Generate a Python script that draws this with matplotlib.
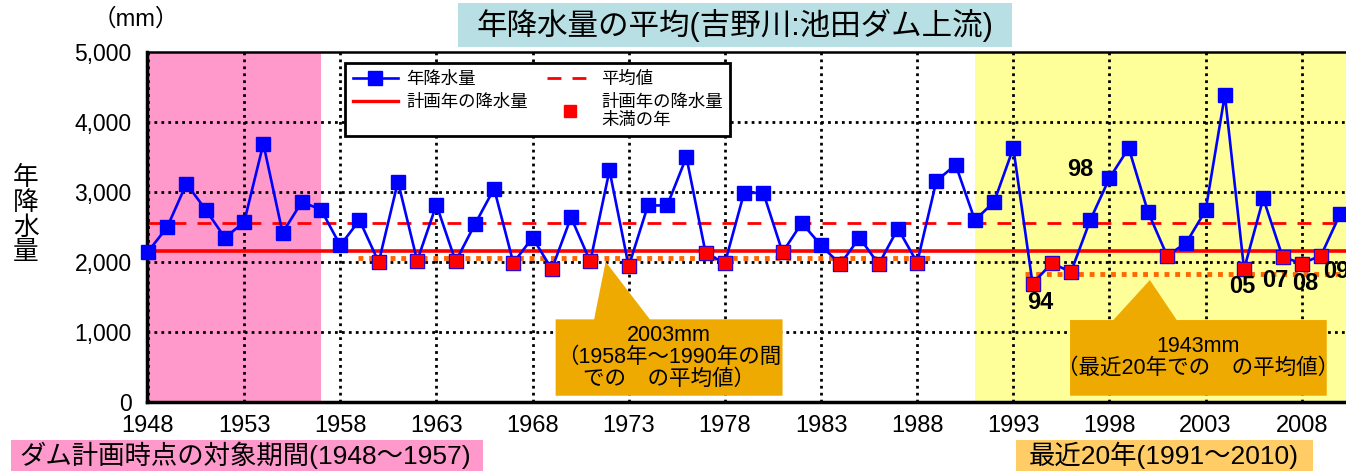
import numpy as np
import matplotlib
matplotlib.use("Agg")
import matplotlib.pyplot as plt
from matplotlib.lines import Line2D
from matplotlib.patches import Rectangle, Polygon

plt.rcParams['font.family'] = ['Liberation Sans', 'Noto Sans CJK JP']

# data (mm)
years = np.arange(1948, 2011)
rain = [2150, 2500, 3120, 2750, 2350, 2570, 3690, 2420, 2860, 2750,
        2240, 2600, 2000, 3150, 2020, 2820, 2010, 2540, 3050, 1990,
        2350, 1900, 2640, 2010, 3310, 1940, 2810, 2810, 3500, 2130,
        1985, 2990, 2990, 2140, 2560, 2240, 1970, 2350, 1970, 2480,
        1994, 3160, 3390, 2600, 2860, 3630, 1695, 1985, 1860, 2600,
        3200, 3630, 2720, 2090, 2280, 2740, 4390, 1900, 2910, 2078,
        1980, 2095, 2690]
plan_rain = 2160
mean_rain = 2560
avg_58_90 = 2060      # drawn level of the 2003mm line
avg_recent = 1830     # drawn level of the 1943mm line
label_years = {"94": (1994.4, 1430), "98": (1996.5, 3320), "05": (2004.9, 1650),
               "07": (2006.6, 1745), "08": (2008.2, 1690), "09": (2009.8, 1870)}

rain = np.array(rain)
red = (years >= 1958) & (rain < plan_rain)

W, H = 1346, 471
fig = plt.figure(figsize=(W / 100, H / 100), dpi=100)
ax = fig.add_axes([147 / W, (H - 402.3) / H, (W - 147) / W, (402.3 - 52) / H])
ax.set_xlim(1947.95, 2010.3)
ax.set_ylim(0, 5000)

# background periods
ax.axvspan(1947.95, 1957.0, color='#FF99CC', zorder=0, lw=0)
ax.axvspan(1991.0, 2012, color='#FFFF99', zorder=0, lw=0)

# grid
for x in range(1948, 2010, 5):
    ax.axvline(x, color='black', ls=(0, (1, 1.5)), lw=2, zorder=1)
for y in range(1000, 5000, 1000):
    ax.axhline(y, color='black', ls=(0, (1, 1.5)), lw=2, zorder=1)

ax.axhline(plan_rain, color='#FF0000', lw=2.6, zorder=2)
ax.axhline(mean_rain, color='#FF0000', lw=2, ls=(0, (5, 4)), zorder=2)
ax.plot([1958.9, 1988.8], [avg_58_90, avg_58_90], color='#FF6600', lw=3.5,
        ls=(0, (1, 1.2)), zorder=2)
ax.plot([1993.6, 2011], [avg_recent, avg_recent], color='#FF6600', lw=3.5,
        ls=(0, (1, 1.2)), zorder=2)

ax.plot(years, rain, color='#0000FF', lw=1.9, marker='s', ms=10, mfc='#0000FF',
        mec='#0000FF', zorder=3, clip_on=False)
ax.plot(years[red], rain[red], ls='none', marker='s', ms=8.5, mfc='#FF0000',
        mec='#FF0000', zorder=4, clip_on=False)

for k, (x, y) in label_years.items():
    ax.text(x, y, k, fontsize=17, fontweight='bold', ha='center', va='center',
            zorder=6, clip_on=False)

# callouts
c_org = '#EEAA00'
ax.add_patch(Polygon([(1969.2, 94), (1981.0, 94), (1981.0, 1184), (1974.1, 1184),
                      (1971.8, 2006), (1971.2, 1184), (1969.2, 1184)],
                     closed=True, fc=c_org, ec='none', zorder=5))
ax.text(1975.1, 640, "2003mm\n（1958年～1990年の間\nでの　の平均値）", fontsize=15.5,
        ha='center', va='center', linespacing=1.05, zorder=6)
ax.add_patch(Polygon([(1995.95, 94), (2009.3, 94), (2009.3, 1174), (2001.5, 1174),
                      (2000.1, 1745), (1998.2, 1174), (1995.95, 1174)],
                     closed=True, fc=c_org, ec='none', zorder=5))
ax.text(2002.6, 640, "1943mm\n（最近20年での　の平均値）", fontsize=15.5,
        ha='center', va='center', linespacing=1.1, zorder=6)

# axes styling
ax.set_xticks(range(1948, 2010, 5))
ax.set_yticks(range(0, 5001, 1000))
ax.set_yticklabels([f"{v:,}" for v in range(0, 5001, 1000)])
ax.tick_params(length=0)
ax.tick_params(axis='x', pad=9.5, labelsize=17)
ax.tick_params(axis='y', pad=11, labelsize=16.5)
ax.spines['right'].set_visible(False)
ax.spines['left'].set_linewidth(2.5)
ax.spines['bottom'].set_linewidth(2.5)
ax.spines['top'].set_linewidth(1.8)

handles = [Line2D([], [], color='#0000FF', lw=1.9, marker='s', ms=10),
           Line2D([], [], color='#FF0000', lw=2.4),
           Line2D([], [], color='#FF0000', lw=2, ls=(0, (5, 4))),
           Line2D([], [], ls='none', marker='s', ms=8.5, color='#FF0000')]
labels = ["年降水量", "計画年の降水量", "平均値", "計画年の降水量\n未満の年"]
leg = ax.legend(handles, labels, ncol=2, loc='upper left',
                bbox_to_anchor=(0.165, 0.969), borderaxespad=0, fontsize=12.5,
                frameon=True, fancybox=False, framealpha=1, edgecolor='black',
                handlelength=2.6, columnspacing=1.1, borderpad=0.45,
                labelspacing=0.4, handletextpad=0.5)
leg.get_frame().set_linewidth(2)
leg.set_zorder(7)

# figure texts
fig.patches.append(Rectangle((458 / W, (H - 47) / H), 554 / W, 44 / H,
                             transform=fig.transFigure, fc='#B8E0E4', ec='none'))
fig.text(735 / W, (H - 25) / H, "年降水量の平均(吉野川:池田ダム上流)", fontsize=22,
         ha='center', va='center')
fig.text(136 / W, (H - 20) / H, "（mm）", fontsize=17, ha='center', va='center')
fig.text(26 / W, (H - 215) / H, "年\n降\n水\n量", fontsize=18.5, ha='center',
         va='center', linespacing=1.05)

fig.patches.append(Rectangle((11 / W, 0), 472 / W, 31 / H,
                             transform=fig.transFigure, fc='#FF99CC', ec='none'))
fig.text(245 / W, (H - 455) / H, "ダム計画時点の対象期間(1948～1957)", fontsize=19,
         ha='center', va='center')
fig.patches.append(Rectangle((1016 / W, 0), 297 / W, 31 / H,
                             transform=fig.transFigure, fc='#FFCC66', ec='none'))
fig.text(1164 / W, (H - 455) / H, "最近20年(1991～2010)", fontsize=19,
         ha='center', va='center')

fig.savefig("out.png", dpi=100)
